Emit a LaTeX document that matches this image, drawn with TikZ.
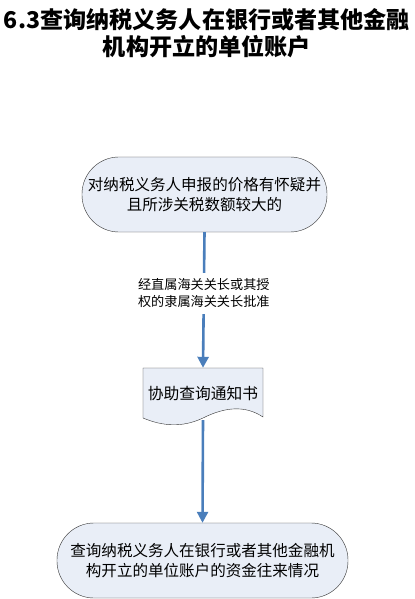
\documentclass[tikz,border=0pt]{standalone}
\usepackage{fontspec}
\usepackage{xcolor}
\newfontfamily\cjk{Noto Sans CJK SC}
\usetikzlibrary{arrows.meta,calc}
\definecolor{boxfill}{RGB}{233,238,247}
\definecolor{flowblue}{RGB}{74,126,187}
\tikzset{
    TT1/.style ={align=center, font=\cjk\bfseries\fontsize{23.2}{27}\selectfont},
    RR1/.style ={rectangle, rounded corners=37bp, draw=black!80, fill=boxfill, align=center,
                 minimum height=75bp, inner sep=0pt, font=\cjk\fontsize{15.6}{20}\selectfont},
    DD1/.style ={rectangle, minimum width=120bp, minimum height=52bp, inner sep=0pt,
                 font=\cjk\fontsize{15.8}{20}\selectfont},
    LB1/.style ={fill=white, align=center, inner xsep=2pt, inner ysep=6pt,
                 font=\cjk\fontsize{13.2}{17}\selectfont},
    FL1/.style ={draw=flowblue, line width=2.6bp, -{Triangle[length=11bp,width=11bp]}}
}

\begin{document}
\begin{tikzpicture}[x=1bp,y=-1bp]
        \useasboundingbox (0,0) rectangle (414,599);
        % title
        \node[TT1] (title) at(207,33) {6.3查询纳税义务人在银行或者其他金融\\机构开立的单位账户};
        % boxes
        \node[RR1, minimum width=245bp] (start) at(204.5,194.5) {对纳税义务人申报的价格有怀疑并\\且所涉关税数额较大的};
        \draw[draw=black!80, fill=boxfill] (143,368)--(263,368)--(263,417)
            .. controls (245,405) and (225,407) .. (203,418)
            .. controls (182,428) and (162,426) .. (143,418)--cycle;
        \node[DD1] (notice) at(203,394) {协助查询通知书};
        \node[RR1, minimum width=291bp] (result) at(202.5,560.5) {查询纳税义务人在银行或者其他金融机\\构开立的单位账户的资金往来情况};
        % arrows
        \draw[FL1] (start.south) -- node[LB1, pos=0.45] {经直属海关关长或其授\\权的隶属海关关长批准} (notice.north);
        \draw[FL1] (notice.south) -- (result.north);
    \end{tikzpicture}
\end{document}
